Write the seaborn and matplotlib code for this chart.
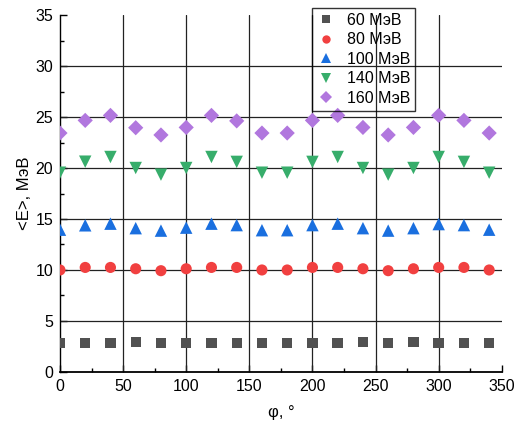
import numpy as np
import pandas as pd
import matplotlib
matplotlib.use('Agg')
import matplotlib.pyplot as plt
import seaborn as sns
from matplotlib.ticker import MultipleLocator

# данные
phi = [0, 20, 40, 60, 80, 100, 120, 140, 160, 180, 200, 220, 240, 260, 280, 300, 320, 340]
e60 = [2.85, 2.85, 2.85, 2.92, 2.85, 2.85, 2.85, 2.85, 2.85, 2.85, 2.85, 2.85, 2.92, 2.85, 2.92, 2.85, 2.85, 2.85]
e80 = [10.0, 10.25, 10.25, 10.12, 9.93, 10.12, 10.25, 10.25, 10.0, 10.0, 10.25, 10.25, 10.12, 9.93, 10.12, 10.25, 10.25, 10.0]
e100 = [13.95, 14.38, 14.54, 14.1, 13.86, 14.15, 14.54, 14.4, 13.9, 13.9, 14.4, 14.54, 14.1, 13.86, 14.1, 14.5, 14.4, 13.95]
e140 = [19.54, 20.62, 21.08, 20.0, 19.35, 20.0, 21.08, 20.6, 19.54, 19.54, 20.6, 21.08, 20.0, 19.35, 20.0, 21.08, 20.6, 19.54]
e160 = [23.43, 24.67, 25.16, 23.95, 23.24, 23.98, 25.16, 24.62, 23.43, 23.43, 24.67, 25.16, 23.98, 23.24, 23.98, 25.16, 24.67, 23.43]
labels = ['60 МэВ', '80 МэВ', '100 МэВ', '140 МэВ', '160 МэВ']
colors = ['#515151', '#F14040', '#1A6FDF', '#37AD6B', '#B177DE']
markers = ['s', 'o', '^', 'v', 'D']
msizes = [56, 64, 80, 80, 60]

series = [e60, e80, e100, e140, e160]
df = pd.DataFrame({
    'phi': phi * len(series),
    'E': sum(series, []),
    'energy': [lab for lab in labels for _ in phi],
})

sns.set_style('ticks')
plt.rcParams['font.family'] = ['Liberation Sans', 'DejaVu Sans']
plt.rcParams['text.color'] = 'black'
plt.rcParams['axes.labelcolor'] = 'black'
plt.rcParams['xtick.color'] = 'black'
plt.rcParams['ytick.color'] = 'black'

fig = plt.figure(figsize=(5.26, 4.3), dpi=100)
ax = fig.add_axes([0.114, 0.135, 0.84, 0.83])

sns.scatterplot(data=df, x='phi', y='E', hue='energy', style='energy', size='energy',
                hue_order=labels, style_order=labels, size_order=labels,
                palette=colors, markers=markers, sizes=dict(zip(labels, msizes)),
                linewidth=0, ax=ax, zorder=3)

ax.set_xlim(0, 350)
ax.set_ylim(0, 35)
ax.xaxis.set_major_locator(MultipleLocator(50))
ax.xaxis.set_minor_locator(MultipleLocator(25))
ax.yaxis.set_major_locator(MultipleLocator(5))
ax.yaxis.set_minor_locator(MultipleLocator(2.5))

for x in range(50, 350, 50):
    ax.axvline(x, color='#222222', lw=0.9, zorder=1)
for y in range(5, 35, 5):
    ax.axhline(y, color='#222222', lw=0.9, zorder=1)

sns.despine(ax=ax)
ax.spines['left'].set_linewidth(1.0)
ax.spines['left'].set_color('black')
ax.spines['bottom'].set_linewidth(1.3)
ax.spines['bottom'].set_color('black')
ax.tick_params(which='major', direction='in', length=5, width=1, labelsize=11.5, pad=5)
ax.tick_params(which='minor', direction='in', length=3, width=1)

ax.set_xlabel('φ, °', fontsize=12, labelpad=8)
ax.set_ylabel('<E>, МэВ', fontsize=12, labelpad=2)

leg = ax.legend(loc='upper left', bbox_to_anchor=(0.593, 0.981),
                bbox_transform=fig.transFigure, borderaxespad=0, frameon=True,
                fontsize=11.5, markerscale=0.75, labelspacing=0.28,
                handlelength=1.2, handletextpad=0.7, borderpad=0.3, fancybox=False)
leg.get_frame().set_facecolor('none')
leg.get_frame().set_edgecolor('black')
leg.get_frame().set_linewidth(1.0)

plt.savefig('out.png', dpi=100)
